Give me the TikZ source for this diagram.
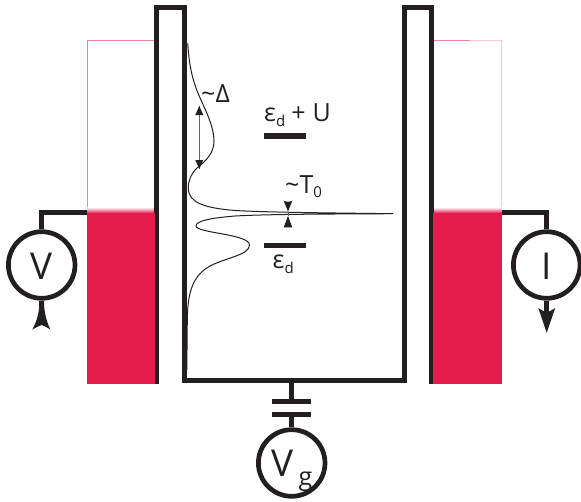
\documentclass[tikz,border=0pt]{standalone}
\usepackage{fontspec}
\setmainfont{Open Sans}
\definecolor{res}{RGB}{227,28,75}
\definecolor{resedge}{RGB}{240,130,160}
\definecolor{ink}{RGB}{35,31,32}
\tikzset{
  wall/.style={draw=ink,line width=5pt,miter limit=10},
  wire/.style={draw=ink,line width=4.7pt},
  meter/.style={circle,draw=ink,line width=4.7pt,minimum size=66.6pt,inner sep=0pt},
  level/.style={fill=ink,draw=none,minimum width=41.5pt,minimum height=5.3pt,inner sep=0pt},
  plate/.style={fill=ink,draw=none,minimum width=38.5pt,minimum height=4.7pt,inner sep=0pt},
  label/.style={inner sep=0pt,anchor=base west,text=ink},
  bath/.style={fill=res,draw=none,inner sep=0pt,anchor=north west},
  fade/.style={top color=white,bottom color=res,draw=none,inner sep=0pt,anchor=north west},
  gap/.style={draw=resedge,line width=0.8pt},
  head/.style={fill=ink,draw=none},
  spec/.style={draw=ink,line width=1pt,line join=round},
  span/.style={draw=ink!70,line width=1pt}
}
\begin{document}
\begin{tikzpicture}[x=1pt,y=-1pt]
\useasboundingbox (0,0) rectangle (581,501);
% reservoirs
\draw[gap] (155,40) -- (87.4,40) -- (87.4,208);
\draw[gap,draw=resedge!45] (433,40.3) -- (501.6,40.3) -- (501.6,208);
\draw[gap] (433,40.3) -- (470,40.3);
\node[fade,minimum width=68pt,minimum height=6pt] (lfade) at (87,207) {};
\node[fade,minimum width=69pt,minimum height=6pt] (rfade) at (433,207) {};
\node[bath,minimum width=68pt,minimum height=170.5pt] (lres) at (87,213) {};
\node[bath,minimum width=69pt,minimum height=170.5pt] (rres) at (433,213) {};
% walls
\draw[wall] (156.7,383.5) -- (156.7,7.5) -- (184.4,7.5) -- (184.4,380.5) -- (404.3,380.5) -- (404.3,7.5) -- (431,7.5) -- (431,383.5);
\fill[res] (87,383.5) rectangle (155,213);
\fill[res] (433.3,383.5) rectangle (502,213);
% meters
\node[meter] (V) at (41.7,265) {};
\node[meter] (I) at (546.7,265) {};
\node[meter] (G) at (291.7,463) {};
\node[font=\fontsize{37}{37}\selectfont,text=ink,inner sep=0pt] (Vt) at (41.5,266.5) {V};
\node[font=\fontsize{37}{37}\selectfont,text=ink,inner sep=0pt] (It) at (546.7,266.5) {I};
\node[label,font=\fontsize{37}{37}\selectfont] (Gt) at (271.5,476) {V};
\node[label,font=\fontsize{25}{25}\selectfont] (Gs) at (298.5,485) {g};
% wires
\coordinate (lw) at (87,212.7);
\coordinate (rw) at (502,212.7);
\coordinate (lc) at (41.7,212.7);
\coordinate (rc) at (546.7,212.7);
\draw[wire] (lw) -- (lc) -- (V.north);
\draw[wire] (rw) -- (rc) -- (I.north);
% meter arrows
\coordinate (va) at (41.7,312);
\coordinate (ia) at (546.7,316);
\draw[wire] (V.south) -- (va);
\draw[wire] (I.south) -- (ia);
\fill[head] (39.4,303) .. controls (39,315) and (36,323) .. (32.2,329.5) .. controls (36,327.5) and (39,326) .. (41.7,325) .. controls (44.4,326) and (47.4,327.5) .. (50.3,329.5) .. controls (47.4,323) and (44.4,315) .. (44,303) -- cycle;
\fill[head] (538.3,308) .. controls (541,310) and (544,311.5) .. (546.7,312.5) .. controls (549.4,311.5) and (552.4,310) .. (555.2,308) -- (546.7,332.8) -- cycle;
% gate capacitor
\node[plate] (p1) at (291.5,401.7) {};
\node[plate] (p2) at (291.5,414.7) {};
\coordinate (gt) at (291.2,382);
\draw[wire] (gt) -- (gt |- p1.north);
\draw[wire] (p2.south -| G.north) -- (G.north);
% levels
\node[level] (up) at (284.8,136) {};
\node[level] (dn) at (284.8,245.3) {};
\node[label,font=\fontsize{25}{25}\selectfont] (upt) at (264,121) {ε\raisebox{-5pt}{\fontsize{15}{15}\selectfont d}\hspace{6pt}+\hspace{7pt}U};
\node[label,font=\fontsize{25}{25}\selectfont] (dnt) at (272.5,268) {ε\raisebox{-5pt}{\fontsize{15}{15}\selectfont d}};
\node[label,font=\fontsize{25}{25}\selectfont] (dl) at (201,102.7) {\raisebox{0pt}{\char"007E}Δ};
\node[label,font=\fontsize{25}{25}\selectfont] (tl) at (285,193.3) {\char"007ET\raisebox{-4pt}{\fontsize{15}{15}\selectfont 0}};
% spectral curve
\draw[spec] (187.7,43.3) .. controls (189,62) and (191,73) .. (195,85)
  .. controls (199,99) and (214,122) .. (214,141)
  .. controls (214,153) and (206,161) .. (197,168)
  .. controls (191,174) and (188.3,180) .. (188.3,188)
  .. controls (188.3,203) and (205,208) .. (235,210.5)
  .. controls (270,212.5) and (340,213) .. (392.7,213.7)
  .. controls (340,214) and (270,214) .. (235,216)
  .. controls (210,218) and (196,221) .. (196,226)
  .. controls (196,233) and (249.5,234) .. (249.5,245)
  .. controls (249.5,255) and (225,258) .. (210,266)
  .. controls (194,275) and (187.5,290) .. (187.3,320)
  -- (186.8,370);
% arrows
\coordinate (d1) at (199.3,106);
\coordinate (d2) at (199.3,169);
\draw[span] (d1) -- (d2);
\fill[head] (d1) -- (203.3,115) -- (195.3,115) -- cycle;
\fill[head] (d2) -- (203.3,160) -- (195.3,160) -- cycle;
\coordinate (t1) at (288,211.5);
\coordinate (t2) at (288,216);
\fill[head] (t1) -- (283.7,200.7) .. controls (286,202) and (290,202) .. (292.3,200.7) -- cycle;
\fill[head] (t2) -- (283.7,227.3) -- (292.3,227.3) -- cycle;
\draw[span,line width=0.7pt] (t1) -- (t2);
\end{tikzpicture}
\end{document}
